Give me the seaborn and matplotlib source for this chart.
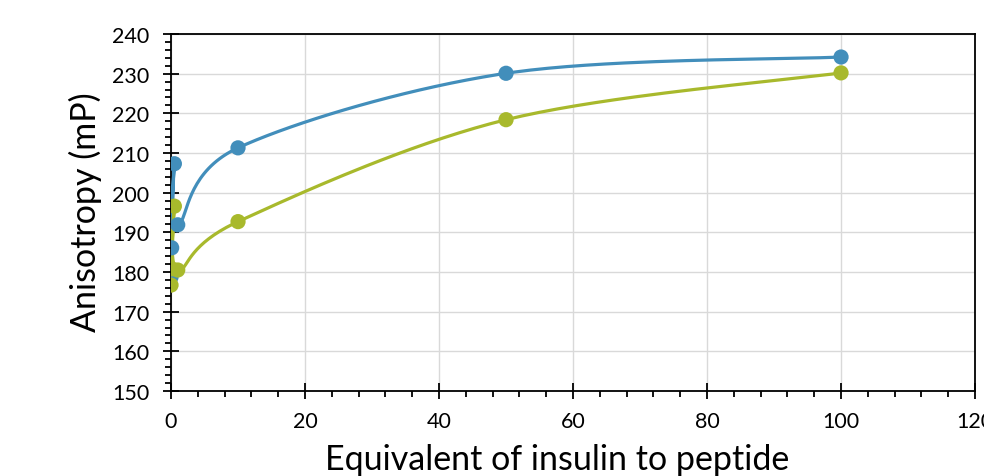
import numpy as np
import pandas as pd
import matplotlib
matplotlib.use("Agg")
import matplotlib.pyplot as plt
from matplotlib.ticker import MultipleLocator
import seaborn as sns

# ---- data ----
equivalents = [0, 0.1, 0.5, 1, 10, 50, 100]
series_a = [178.7, 186.1, 207.3, 191.9, 211.3, 230.1, 234.2]
series_b = [176.7, 180.8, 196.6, 180.5, 192.7, 218.4, 230.2]
series_names = ["Series A", "Series B"]
colors = ["#428EBB", "#A8B92C"]

x_label = "Equivalent of insulin to peptide"
y_label = "Anisotropy (mP)"

sns.set_theme(style="white")
plt.rcParams["font.family"] = ["Lato", "DejaVu Sans"]

fig = plt.figure(figsize=(9.84, 4.77), dpi=100)
ax = fig.add_axes([0.1738, 0.1782, 0.8171, 0.7484])

XMIN, XMAX, YMIN, YMAX = 0, 120, 150, 240
ax.set_xlim(XMIN, XMAX)
ax.set_ylim(YMIN, YMAX)

# pixel scaling for smoothing (Excel-like Bezier smoothing in screen space)
sx = 804 / 120.0
sy = 357 / 90.0


def smooth(xs, ys, n=40):
    P = np.column_stack([np.asarray(xs) * sx, np.asarray(ys) * sy])
    out = []
    m = len(P)
    for i in range(m - 1):
        p0 = P[i - 1] if i > 0 else P[i]
        p1 = P[i]
        p2 = P[i + 1]
        p3 = P[i + 2] if i + 2 < m else P[i + 1]
        c1 = p1 + (p2 - p0) / 6.0
        c2 = p2 - (p3 - p1) / 6.0
        t = np.linspace(0, 1, n)[:, None]
        seg = ((1 - t) ** 3) * p1 + 3 * ((1 - t) ** 2) * t * c1 + 3 * (1 - t) * t ** 2 * c2 + t ** 3 * p2
        out.append(seg if i == 0 else seg[1:])
    C = np.vstack(out)
    return C[:, 0] / sx, C[:, 1] / sy


for ys, col, name in zip([series_a, series_b], colors, series_names):
    cx, cy = smooth(equivalents, ys)
    curve = pd.DataFrame({"x": cx, "y": cy})
    sns.lineplot(data=curve, x="x", y="y", sort=False, estimator=None,
                 color=col, linewidth=2.3, ax=ax, zorder=3)
    pts = pd.DataFrame({"x": equivalents, "y": ys})
    sns.scatterplot(data=pts, x="x", y="y", color=col, s=120,
                    edgecolor="none", linewidth=0, ax=ax, zorder=4)

# grid
ax.xaxis.set_major_locator(MultipleLocator(20))
ax.yaxis.set_major_locator(MultipleLocator(10))
ax.xaxis.set_minor_locator(MultipleLocator(4))
ax.yaxis.set_minor_locator(MultipleLocator(2))
ax.grid(True, which="major", color="#D9D9D9", linewidth=1.0)
ax.set_axisbelow(True)

for s in ax.spines.values():
    s.set_visible(True)
    s.set_color("black")
    s.set_linewidth(1.3)

ax.tick_params(axis="both", which="major", direction="inout", length=11.5,
               width=1.3, color="black", labelsize=15.5, labelcolor="black",
               bottom=True, left=True, top=False, right=False)
ax.tick_params(axis="both", which="minor", direction="out", length=4.5,
               width=1.3, color="black", bottom=True, left=True, top=False, right=False)
ax.tick_params(axis="x", which="major", pad=9)
ax.tick_params(axis="y", which="major", pad=10)

ax.set_xlabel("")
ax.set_ylabel("")
fig.text(0.566, 0.0356, x_label, fontsize=24.5, color="black",
         ha="center", va="center")
fig.text(0.0864, 0.5556, y_label, fontsize=24.5, color="black",
         ha="center", va="center", rotation=90)

fig.savefig("out.png", dpi=100)
